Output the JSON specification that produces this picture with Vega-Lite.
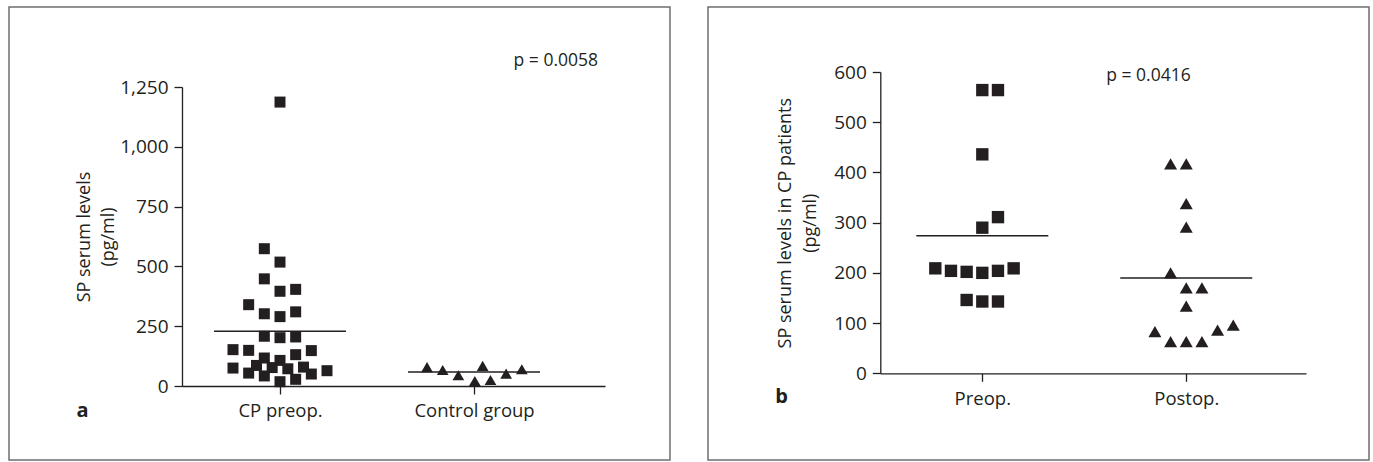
{
  "$schema": "https://vega.github.io/schema/vega-lite/v6.json",
  "background": "white",
  "padding": {"left": 8, "top": 6, "right": 0, "bottom": 0},
  "autosize": {"type": "pad"},
  "spacing": 36,
  "datasets": {
    "a_points": [
      {"group": "CP preop.", "slot": 0, "value": 1187},
      {"group": "CP preop.", "slot": -1, "value": 574},
      {"group": "CP preop.", "slot": 0, "value": 518},
      {"group": "CP preop.", "slot": -1, "value": 448},
      {"group": "CP preop.", "slot": 0, "value": 396},
      {"group": "CP preop.", "slot": 1, "value": 404},
      {"group": "CP preop.", "slot": -2, "value": 340},
      {"group": "CP preop.", "slot": -1, "value": 302},
      {"group": "CP preop.", "slot": 0, "value": 290},
      {"group": "CP preop.", "slot": 1, "value": 310},
      {"group": "CP preop.", "slot": -1, "value": 208},
      {"group": "CP preop.", "slot": 0, "value": 202},
      {"group": "CP preop.", "slot": 1, "value": 205},
      {"group": "CP preop.", "slot": -3, "value": 152},
      {"group": "CP preop.", "slot": -2, "value": 149},
      {"group": "CP preop.", "slot": 2, "value": 148},
      {"group": "CP preop.", "slot": 1, "value": 131},
      {"group": "CP preop.", "slot": -1, "value": 117},
      {"group": "CP preop.", "slot": 0, "value": 107},
      {"group": "CP preop.", "slot": -3, "value": 75},
      {"group": "CP preop.", "slot": -1.5, "value": 86},
      {"group": "CP preop.", "slot": -0.5, "value": 77},
      {"group": "CP preop.", "slot": 0.5, "value": 72},
      {"group": "CP preop.", "slot": 1.5, "value": 79},
      {"group": "CP preop.", "slot": -2, "value": 54},
      {"group": "CP preop.", "slot": -1, "value": 42},
      {"group": "CP preop.", "slot": 2, "value": 50},
      {"group": "CP preop.", "slot": 3, "value": 64},
      {"group": "CP preop.", "slot": 0, "value": 18},
      {"group": "CP preop.", "slot": 1, "value": 28},
      {"group": "Control group", "slot": -3, "value": 79},
      {"group": "Control group", "slot": -2, "value": 67},
      {"group": "Control group", "slot": -1, "value": 45},
      {"group": "Control group", "slot": 0.55, "value": 84},
      {"group": "Control group", "slot": 0.05, "value": 21},
      {"group": "Control group", "slot": 1.05, "value": 25},
      {"group": "Control group", "slot": 2.05, "value": 52},
      {"group": "Control group", "slot": 3.05, "value": 70}
    ],
    "a_means": [
      {"group": "CP preop.", "value": 229},
      {"group": "Control group", "value": 58.5}
    ],
    "b_points": [
      {"group": "Preop.", "slot": 0, "value": 564},
      {"group": "Preop.", "slot": 1, "value": 564},
      {"group": "Preop.", "slot": 0, "value": 436},
      {"group": "Preop.", "slot": 0, "value": 290},
      {"group": "Preop.", "slot": 1, "value": 311},
      {"group": "Preop.", "slot": -3, "value": 209},
      {"group": "Preop.", "slot": -2, "value": 204},
      {"group": "Preop.", "slot": -1, "value": 202},
      {"group": "Preop.", "slot": 0, "value": 200},
      {"group": "Preop.", "slot": 1, "value": 204},
      {"group": "Preop.", "slot": 2, "value": 209},
      {"group": "Preop.", "slot": -1, "value": 146},
      {"group": "Preop.", "slot": 0, "value": 143},
      {"group": "Preop.", "slot": 1, "value": 143},
      {"group": "Postop.", "slot": -1, "value": 417},
      {"group": "Postop.", "slot": 0, "value": 417},
      {"group": "Postop.", "slot": 0, "value": 338},
      {"group": "Postop.", "slot": 0, "value": 291},
      {"group": "Postop.", "slot": -1, "value": 200},
      {"group": "Postop.", "slot": 0, "value": 170},
      {"group": "Postop.", "slot": 1, "value": 170},
      {"group": "Postop.", "slot": 0, "value": 134},
      {"group": "Postop.", "slot": -2, "value": 83},
      {"group": "Postop.", "slot": -1, "value": 63},
      {"group": "Postop.", "slot": 0, "value": 63},
      {"group": "Postop.", "slot": 1, "value": 63},
      {"group": "Postop.", "slot": 2, "value": 86},
      {"group": "Postop.", "slot": 3, "value": 96}
    ],
    "b_means": [
      {"group": "Preop.", "value": 274},
      {"group": "Postop.", "value": 190}
    ]
  },
  "hconcat": [
    {
      "width": 661,
      "height": 453,
      "view": {"stroke": "#6d6d6d", "strokeWidth": 1.5},
      "layer": [
        {
          "data": {"name": "a_points"},
          "mark": {"type": "point", "filled": true, "opacity": 1, "color": "#231f20", "strokeWidth": 0},
          "encoding": {
            "x": {
              "field": "group", "type": "nominal", "sort": ["CP preop.", "Control group"],
              "scale": {"type": "point", "domain": ["CP preop.", "Control group"], "range": [173, 596], "padding": 0.59, "align": 0.428},
              "axis": {
                "title": "a", "titleFontWeight": "bold", "titleFontSize": 20,
                "titleX": 73, "titleY": 30, "titleAlign": "center", "titleBaseline": "alphabetic", "titleAngle": 0,
                "offset": -74, "labelAngle": 0, "labelBaseline": "alphabetic", "labelPadding": 22, "tickSize": 8, "labelFontSize": 18.5
              }
            },
            "xOffset": {"field": "slot", "type": "quantitative", "scale": {"domain": [-3, 3], "range": [-47, 47]}},
            "y": {
              "field": "value", "type": "quantitative",
              "scale": {"domain": [0, 1250], "range": [379, 80], "nice": false, "zero": false},
              "axis": {
                "title": ["SP serum levels", "(pg/ml)"], "offset": -173,
                "values": [0, 250, 500, 750, 1000, 1250], "format": ",.0f",
                "tickSize": 8, "labelPadding": 6,
                "titleX": -98, "titleY": 229.5, "titleAngle": -90, "titleAlign": "center", "titleBaseline": "middle", "titleLineHeight": 24
              }
            },
            "shape": {"field": "group", "type": "nominal", "scale": {"domain": ["CP preop.", "Control group"], "range": ["square", "triangle-up"]}, "legend": null},
            "size": {"field": "group", "type": "ordinal", "scale": {"domain": ["CP preop.", "Control group"], "range": [121, 169]}, "legend": null}
          }
        },
        {
          "data": {"name": "a_means"},
          "mark": {"type": "tick", "size": 132, "thickness": 1.5, "color": "#231f20", "opacity": 1},
          "encoding": {
            "x": {"field": "group", "type": "nominal"},
            "y": {"field": "value", "type": "quantitative"}
          }
        },
        {
          "data": {"values": [{"label": "p = 0.0058"}]},
          "mark": {"type": "text", "align": "right", "baseline": "alphabetic", "dx": 124, "fontSize": 17.5, "color": "#231f20"},
          "encoding": {
            "x": {"datum": "Control group"},
            "y": {"datum": 1338},
            "text": {"field": "label"}
          }
        }
      ]
    },
    {
      "width": 661,
      "height": 453,
      "view": {"stroke": "#6d6d6d", "strokeWidth": 1.5},
      "layer": [
        {
          "data": {"name": "b_points"},
          "mark": {"type": "point", "filled": true, "opacity": 1, "color": "#231f20", "strokeWidth": 0},
          "encoding": {
            "x": {
              "field": "group", "type": "nominal", "sort": ["Preop.", "Postop."],
              "scale": {"type": "point", "domain": ["Preop.", "Postop."], "range": [172.3, 598], "padding": 0.5437, "align": 0.46},
              "axis": {
                "title": "b", "titleFontWeight": "bold", "titleFontSize": 20,
                "titleX": 73, "titleY": 29.4, "titleAlign": "center", "titleBaseline": "alphabetic", "titleAngle": 0,
                "offset": -86.7, "labelAngle": 0, "labelBaseline": "alphabetic", "labelPadding": 23, "tickSize": 8, "labelFontSize": 18.5
              }
            },
            "xOffset": {"field": "slot", "type": "quantitative", "scale": {"domain": [-3, 3], "range": [-49, 49]}},
            "y": {
              "field": "value", "type": "quantitative",
              "scale": {"domain": [0, 600], "range": [366.3, 65], "nice": false, "zero": false},
              "axis": {
                "title": ["SP serum levels in CP patients", "(pg/ml)"], "offset": -172.3,
                "values": [0, 100, 200, 300, 400, 500, 600],
                "tickSize": 8, "labelPadding": 6,
                "titleX": -95, "titleY": 215.7, "titleAngle": -90, "titleAlign": "center", "titleBaseline": "middle", "titleLineHeight": 25
              }
            },
            "shape": {"field": "group", "type": "nominal", "scale": {"domain": ["Preop.", "Postop."], "range": ["square", "triangle-up"]}, "legend": null},
            "size": {"field": "group", "type": "ordinal", "scale": {"domain": ["Preop.", "Postop."], "range": [115, 169]}, "legend": null}
          }
        },
        {
          "data": {"name": "b_means"},
          "mark": {"type": "tick", "size": 132, "thickness": 1.5, "color": "#231f20", "opacity": 1},
          "encoding": {
            "x": {"field": "group", "type": "nominal"},
            "y": {"field": "value", "type": "quantitative"}
          }
        },
        {
          "data": {"values": [{"label": "p = 0.0416"}]},
          "mark": {"type": "text", "align": "right", "baseline": "alphabetic", "dx": 4.5, "fontSize": 17.5, "color": "#231f20"},
          "encoding": {
            "x": {"datum": "Postop."},
            "y": {"datum": 582},
            "text": {"field": "label"}
          }
        }
      ]
    }
  ],
  "config": {
    "font": "Open Sans",
    "view": {"stroke": null},
    "axis": {
      "labelFontSize": 19, "titleFontSize": 18, "labelColor": "#231f20", "titleColor": "#231f20",
      "domainColor": "#231f20", "tickColor": "#231f20", "titleFontWeight": "normal", "grid": false,
      "domainWidth": 1.3, "tickWidth": 1.3, "labelFont": "Open Sans", "titleFont": "Open Sans"
    }
  }
}
